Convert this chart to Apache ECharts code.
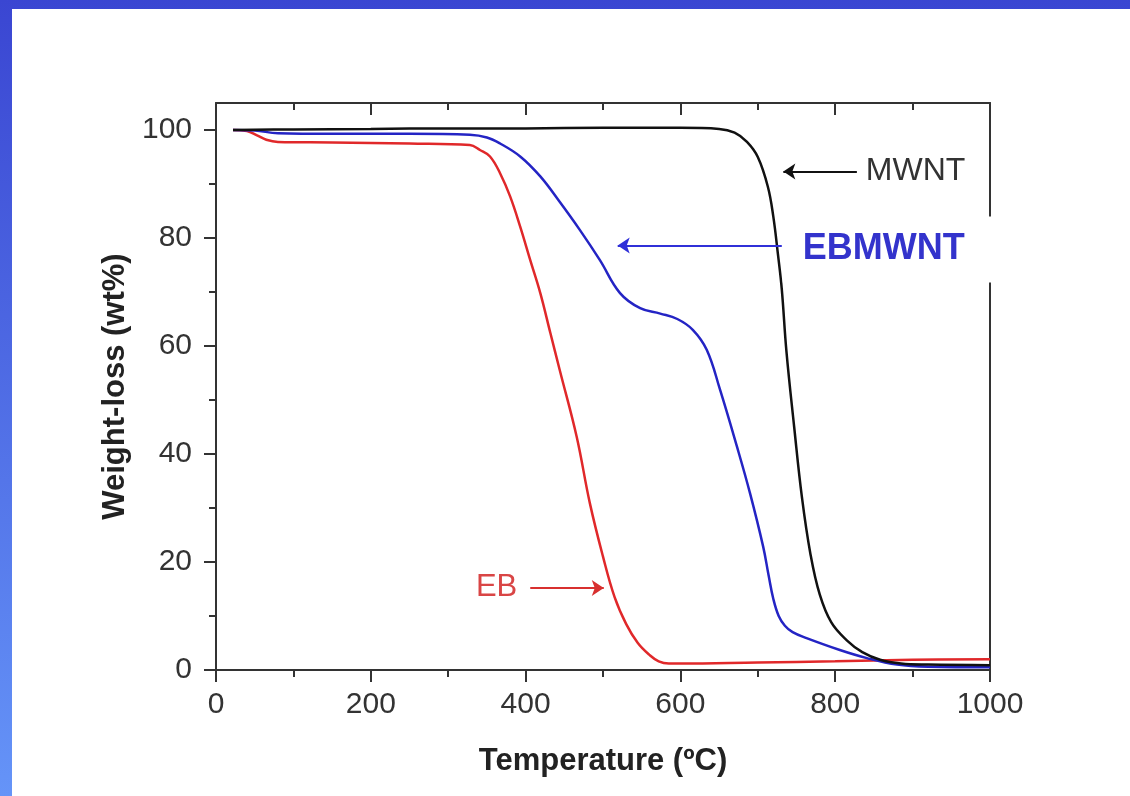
<!DOCTYPE html>
<html>
<head>
<meta charset="utf-8">
<script src="https://cdn.jsdelivr.net/npm/echarts@6/dist/echarts.min.js"></script>
<style>
  html, body { margin: 0; padding: 0; }
  body {
    width: 1130px; height: 796px; position: relative; overflow: hidden;
    background: linear-gradient(to bottom, #3a46d2, #6594f8);
  }
  .panel { position: absolute; left: 12px; top: 9px; right: 0; bottom: 0; background: #fff; }
  #chart { position: absolute; left: 0; top: 0; width: 1130px; height: 796px; }
</style>
</head>
<body>
<div class="panel"></div>
<div id="chart"></div>
<script>
// TGA curves: temperature (ºC) / weight (wt%)
const mwntTemp   = [22, 100, 200, 300, 400, 500, 600, 650, 670, 686, 700, 713, 720, 726, 731, 737, 747, 757, 768, 780, 795, 815, 835, 858, 885, 920, 1000];
const mwntWeight = [100, 100.1, 100.2, 100.3, 100.3, 100.4, 100.4, 100.2, 99.5, 97.8, 95, 89.5, 84, 77, 70.5, 59, 45, 32, 21.5, 14, 8.8, 5.5, 3.3, 1.9, 1.2, 1.0, 0.9];

const ebmwntTemp   = [22, 50, 80, 150, 250, 328, 350, 367, 393, 419, 444, 470, 496, 522, 548, 574, 596, 616, 634, 651, 673, 690, 707, 714, 720, 727, 735, 745, 763, 806, 841, 880, 920, 1000];
const ebmwntWeight = [100, 99.9, 99.4, 99.3, 99.3, 99.1, 98.6, 97.5, 95.1, 91.4, 86.7, 81.5, 75.9, 69.8, 67, 66, 65, 63, 59.3, 52, 41.4, 32.7, 22.8, 17.5, 13.2, 10, 8.2, 7, 5.9, 3.7, 2.2, 1.0, 0.6, 0.5];

const ebTemp   = [22, 40, 53, 65, 80, 150, 250, 328, 341, 354, 367, 380, 393, 406, 419, 432, 444, 466, 483, 500, 515, 530, 545, 560, 572, 585, 600, 700, 800, 900, 1000];
const ebWeight = [100, 99.8, 99, 98.2, 97.8, 97.7, 97.5, 97.2, 96.3, 95.1, 92, 87.7, 82.1, 75.9, 69.8, 62.4, 55.6, 43.2, 30.9, 21, 13.5, 8.5, 5, 2.8, 1.6, 1.2, 1.2, 1.4, 1.6, 1.9, 2.0];

const yMajor = [0, 20, 40, 60, 80, 100];
const yMinor = [10, 30, 50, 70, 90];

// arrows: [from, to] in data coords
const mwntArrow   = [[828, 92.3], [733, 92.3]];
const ebmwntArrow = [[731, 78.6], [519, 78.6]];
const ebArrow     = [[406, 15.2], [501, 15.2]];

const zip = (xs, ys) => xs.map((x, i) => [x, ys[i]]);
const font = '"Liberation Sans", Arial, sans-serif';
const axisColor = '#333';

const chart = echarts.init(document.getElementById('chart'));

function arrow(pts, color, text, labelExtra) {
  return {
    silent: true,
    symbol: ['none', 'arrow'],
    symbolSize: 12,
    lineStyle: { color: color, width: 2, type: 'solid' },
    label: Object.assign({
      show: true, position: 'start', formatter: text,
      fontFamily: font
    }, labelExtra),
    emphasis: { disabled: true },
    data: [[{ coord: pts[0] }, { coord: pts[1] }]]
  };
}

const option = {
  animation: false,
  backgroundColor: 'transparent',
  grid: { left: 216, right: 140, top: 103, bottom: 126 },
  xAxis: [
    {
      type: 'value', min: 0, max: 1000, interval: 200, position: 'bottom',
      axisLine: { show: true, onZero: false, lineStyle: { color: axisColor, width: 2 } },
      axisTick: { show: true, length: 12, lineStyle: { color: axisColor, width: 2 } },
      minorTick: { show: true, splitNumber: 2, length: 7, lineStyle: { color: axisColor, width: 2 } },
      splitLine: { show: false },
      axisLabel: { fontSize: 30, color: '#333', margin: 20, fontFamily: font, formatter: v => String(v) },
      name: 'Temperature (ºC)', nameLocation: 'middle', nameGap: 76,
      nameTextStyle: { fontSize: 31, fontWeight: 'bold', color: '#222', fontFamily: font }
    },
    {
      type: 'value', min: 0, max: 1000, interval: 200, position: 'top',
      axisLine: { show: true, onZero: false, lineStyle: { color: axisColor, width: 2 } },
      axisTick: { show: true, inside: true, length: 12, lineStyle: { color: axisColor, width: 2 } },
      minorTick: { show: true, splitNumber: 2, length: 7, lineStyle: { color: axisColor, width: 2 } },
      splitLine: { show: false },
      axisLabel: { show: false }
    }
  ],
  yAxis: [
    {
      type: 'value', min: 0, max: 105, interval: 20, position: 'left',
      axisLine: { show: true, onZero: false, lineStyle: { color: axisColor, width: 2 } },
      axisTick: { show: true, length: 12, customValues: yMajor, lineStyle: { color: axisColor, width: 2 } },
      splitLine: { show: false },
      axisLabel: { customValues: yMajor, fontSize: 30, color: '#333', margin: 24, fontFamily: font },
      name: 'Weight-loss (wt%)', nameLocation: 'middle', nameGap: 84, nameRotate: 90,
      nameTextStyle: { fontSize: 31, fontWeight: 'bold', color: '#222', fontFamily: font }
    },
    {
      type: 'value', min: 0, max: 105, position: 'left',
      axisLine: { show: false },
      axisTick: { show: true, length: 7, customValues: yMinor, lineStyle: { color: axisColor, width: 2 } },
      splitLine: { show: false },
      axisLabel: { show: false }
    },
    {
      type: 'value', min: 0, max: 105, position: 'right',
      axisLine: { show: true, onZero: false, lineStyle: { color: axisColor, width: 2 } },
      axisTick: { show: false },
      splitLine: { show: false },
      axisLabel: { show: false }
    }
  ],
  series: [
    {
      name: 'EB', type: 'line', data: zip(ebTemp, ebWeight),
      showSymbol: false, smooth: 0.4,
      lineStyle: { color: '#e0282a', width: 2.5 },
      markLine: arrow(ebArrow, '#d8302f', 'EB', { fontSize: 31, color: '#d94545', distance: 13 })
    },
    {
      name: 'EBMWNT', type: 'line', data: zip(ebmwntTemp, ebmwntWeight),
      showSymbol: false, smooth: 0.4,
      lineStyle: { color: '#2424c4', width: 2.5 },
      markLine: arrow(ebmwntArrow, '#3030d8', 'EBMWNT', {
        fontSize: 36, fontWeight: 'bold', color: '#3333cc', distance: 1,
        backgroundColor: '#fff', padding: [15, 32, 15, 20], offset: [0, 4]
      })
    },
    {
      name: 'MWNT', type: 'line', data: zip(mwntTemp, mwntWeight),
      showSymbol: false, smooth: 0.4,
      lineStyle: { color: '#111', width: 2.5 },
      markLine: arrow(mwntArrow, '#111', 'MWNT', { fontSize: 32, color: '#333', distance: 9 })
    }
  ]
};

chart.setOption(option);
</script>
</body>
</html>
